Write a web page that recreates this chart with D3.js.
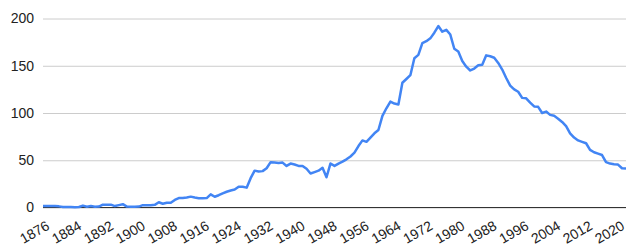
<!DOCTYPE html>
<html>
<head>
<meta charset="utf-8">
<script src="https://cdn.jsdelivr.net/npm/d3@7"></script>
<style>
body{margin:0;background:#fff;}
svg text{font-family:Arial,"Liberation Sans",sans-serif;font-size:14px;fill:#222;}
</style>
</head>
<body>
<svg id="canvas" width="638" height="250"></svg>
<script>
let firstYear=1876
let lastYear=2022
let values=[
1.5,1.5,1.5,1.5,1.2,0.5,0.5,0.4,0.3,0.5,
2,0.8,1.5,0.8,1.0,3,3,3,1.5,2.5,
3.5,1.0,0.8,0.8,1.0,2.5,2.5,2.5,2.8,5.5,
4,5,5,8,10,10,10.5,11.5,10.5,9.8,
9.7,10,13.9,11.4,13,15,16.7,18,19,22,
22,21,31,39,38,38.5,41.5,48,47.5,47,
47.5,44,46.5,45.5,44,44,41,36,37.5,39,
42,32,46.6,44,46.5,48.5,51,54,58,65,
71,69.5,74,78.5,82,97,105,112,110,109,
132,136,140,158,161.5,174,176,179,185,192,
186,188,183,168,165,155,149,145,147,150.5,
151,161,160,158.5,153,146,137,129,125,122.5,
116,115.5,111,107,106.5,100,101.5,98,97,94,
90.5,86,78.5,74,71,69.5,68,61,58.5,57,
55.5,48,46.5,45.8,45.4,41.5,41.3
]
let years=d3.range(firstYear,lastYear+1)
let xTicks=d3.range(1876,2021,8)
let yTicks=[0,50,100,150,200]

let svg=d3.select('#canvas')
let plotLeft=43, plotRight=626, plotTop=18.5, plotBottom=207.5

let x=d3.scaleLinear().domain([firstYear,lastYear]).range([plotLeft,plotRight])
let y=d3.scaleLinear().domain([0,200]).range([plotBottom,plotTop])

// gridlines + y labels
let yAxis=svg.append('g')
    .attr('transform','translate('+plotLeft+',0)')
    .call(d3.axisLeft(y).tickValues(yTicks).tickSize(-(plotRight-plotLeft)).tickPadding(9))
yAxis.select('.domain').remove()
yAxis.selectAll('line').attr('stroke','#ccc')
yAxis.selectAll('text').attr('fill','#222').style('font-size','14px')

// x labels
let xAxis=svg.append('g')
    .attr('transform','translate(0,'+plotBottom+')')
    .call(d3.axisBottom(x).tickValues(xTicks).tickFormat(d3.format('d')).tickSize(0))
xAxis.select('.domain').remove()
xAxis.selectAll('text')
    .attr('fill','#222')
    .style('font-size','14px')
    .attr('text-anchor','end')
    .attr('dy',null)
    .attr('y',0)
    .attr('transform','translate(7,21) rotate(-30)')

// baseline
svg.append('line')
    .attr('x1',plotLeft).attr('x2',plotRight)
    .attr('y1',y(0)).attr('y2',y(0))
    .attr('stroke','#333')

let line=d3.line()
    .x((d,i)=>x(years[i]))
    .y(d=>y(d))

svg.append('path')
    .datum(values)
    .attr('d',line)
    .attr('fill','none')
    .attr('stroke','#4285f4')
    .attr('stroke-width',2.5)
    .attr('stroke-linejoin','round')
</script>
</body>
</html>
